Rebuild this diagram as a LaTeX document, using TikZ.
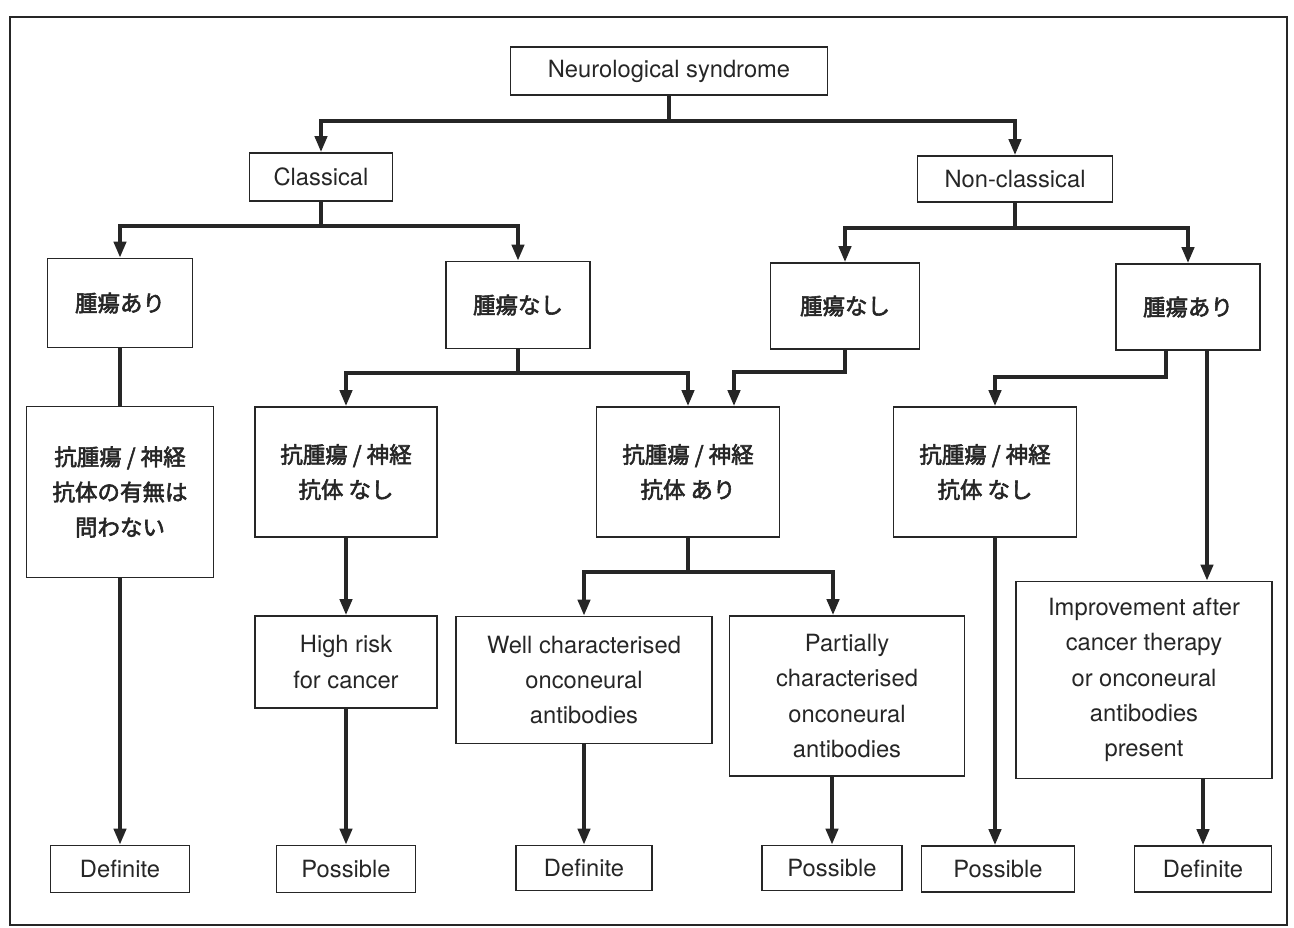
\documentclass[tikz,border=0pt]{standalone}
\usepackage{fontspec}
\setmainfont{TeX Gyre Heros}
\newfontfamily\jp[FakeBold=2.5]{Noto Sans CJK JP}
\usetikzlibrary{arrows.meta}
\colorlet{ink}{black!85}

\begin{document}
\begin{tikzpicture}[x=0.02cm,y=-0.02cm,
    box/.style={draw=ink, text=ink, line width=0.9pt, align=center, inner sep=0pt,
      font=\fontsize{13.5}{20}\selectfont},
    jbox/.style={box, font=\fontsize{12.8}{20}\selectfont\jp},
    sz/.style 2 args={minimum width=#1*0.02cm, minimum height=#2*0.02cm},
    link/.style={draw=ink, line width=2.2pt},
    arr/.style={link, -{Triangle[length=0.32cm,width=0.24cm]}}]
    \useasboundingbox (0,0) rectangle (1294,927);
    \draw[ink, line width=1.4pt] (10,17) rectangle (1287,925);

    % top levels
    \node[box, sz={317}{48}] (root) at (669,71)  {Neurological syndrome};
    \node[box, sz={143}{48}] (cls)  at (321,177) {Classical};
    \node[box, sz={195}{46}] (ncl)  at (1015,179) {Non-classical};
    \node[jbox, sz={145}{89}] (ty1) at (120,303)  {腫瘍あり};
    \node[jbox, sz={144}{87}] (tn1) at (518,305)  {腫瘍なし};
    \node[jbox, sz={149}{86}] (tn2) at (845,306)  {腫瘍なし};
    \node[jbox, sz={144}{86}] (ty2) at (1188,307) {腫瘍あり};

    % antibody boxes
    \node[jbox, sz={187}{171}] (any)  at (120,492) {抗腫瘍 / 神経\\抗体の有無は\\問わない};
    \node[jbox, sz={182}{130}] (abn1) at (346,472) {抗腫瘍 / 神経\\抗体 なし};
    \node[jbox, sz={183}{130}] (aba)  at (688,472) {抗腫瘍 / 神経\\抗体 あり};
    \node[jbox, sz={183}{130}] (abn2) at (985,472) {抗腫瘍 / 神経\\抗体 なし};

    % middle row
    \node[box, sz={182}{92}]  (risk) at (346,662)  {High risk\\for cancer};
    \node[box, sz={256}{127}] (well) at (584,680)  {Well characterised\\onconeural\\antibodies};
    \node[box, sz={235}{160}] (part) at (847,696)  {Partially\\characterised\\onconeural\\antibodies};
    \node[box, sz={256}{197}] (impr) at (1144,680) {Improvement after\\cancer therapy\\or onconeural\\antibodies\\present};

    % outcomes
    \node[box, sz={139}{47}] (def1) at (120,869)  {Definite};
    \node[box, sz={139}{47}] (pos1) at (346,869)  {Possible};
    \node[box, sz={136}{45}] (def2) at (584,868)  {Definite};
    \node[box, sz={140}{45}] (pos2) at (832,868)  {Possible};
    \node[box, sz={153}{46}] (pos3) at (998,869)  {Possible};
    \node[box, sz={137}{46}] (def3) at (1203,869) {Definite};

    % splits
    \coordinate (s0) at (669,121);
    \coordinate (s1) at (321,226);
    \coordinate (s2) at (1015,228);
    \coordinate (s3) at (518,373);
    \coordinate (s4) at (845,372);
    \coordinate (s6) at (688,572);
    \coordinate (t2l) at ([xshift=-0.44cm]ty2.south);
    \coordinate (t2r) at ([xshift=0.38cm]ty2.south);
    \coordinate (n2b) at ([xshift=0.2cm]abn2.south);

    \draw[link] (root) -- (s0);
    \draw[arr] (s0) -| (cls);
    \draw[arr] (s0) -| (ncl);
    \draw[link] (cls) -- (s1);
    \draw[arr] (s1) -| (ty1);
    \draw[arr] (s1) -| (tn1);
    \draw[link] (ncl) -- (s2);
    \draw[arr] (s2) -| (tn2);
    \draw[arr] (s2) -| (ty2);

    \draw[link] (ty1) -- (any);
    \draw[arr] (any) -- (def1);
    \draw[link] (tn1) -- (s3);
    \draw[arr] (s3) -| (abn1);
    \draw[arr] (s3) -| (aba);
    \draw[arr] (tn2.south) -- (s4) -| ([xshift=0.92cm]aba.north);
    \draw[arr] (t2l) -- ++(0,26) -| ([xshift=0.2cm]abn2.north);
    \draw[arr] (t2r) -- (t2r |- impr.north);

    \draw[arr] (abn1) -- (risk);
    \draw[arr] (risk) -- (pos1);
    \draw[link] (aba) -- (s6);
    \draw[arr] (s6) -| (well);
    \draw[arr] (s6) -| ([xshift=-0.28cm]part.north);
    \draw[arr] (well) -- (def2);
    \draw[arr] (part.south -| pos2) -- (pos2);
    \draw[arr] (n2b) -- (n2b |- pos3.north);
    \draw[arr] (impr.south -| def3) -- (def3);
\end{tikzpicture}
\end{document}
